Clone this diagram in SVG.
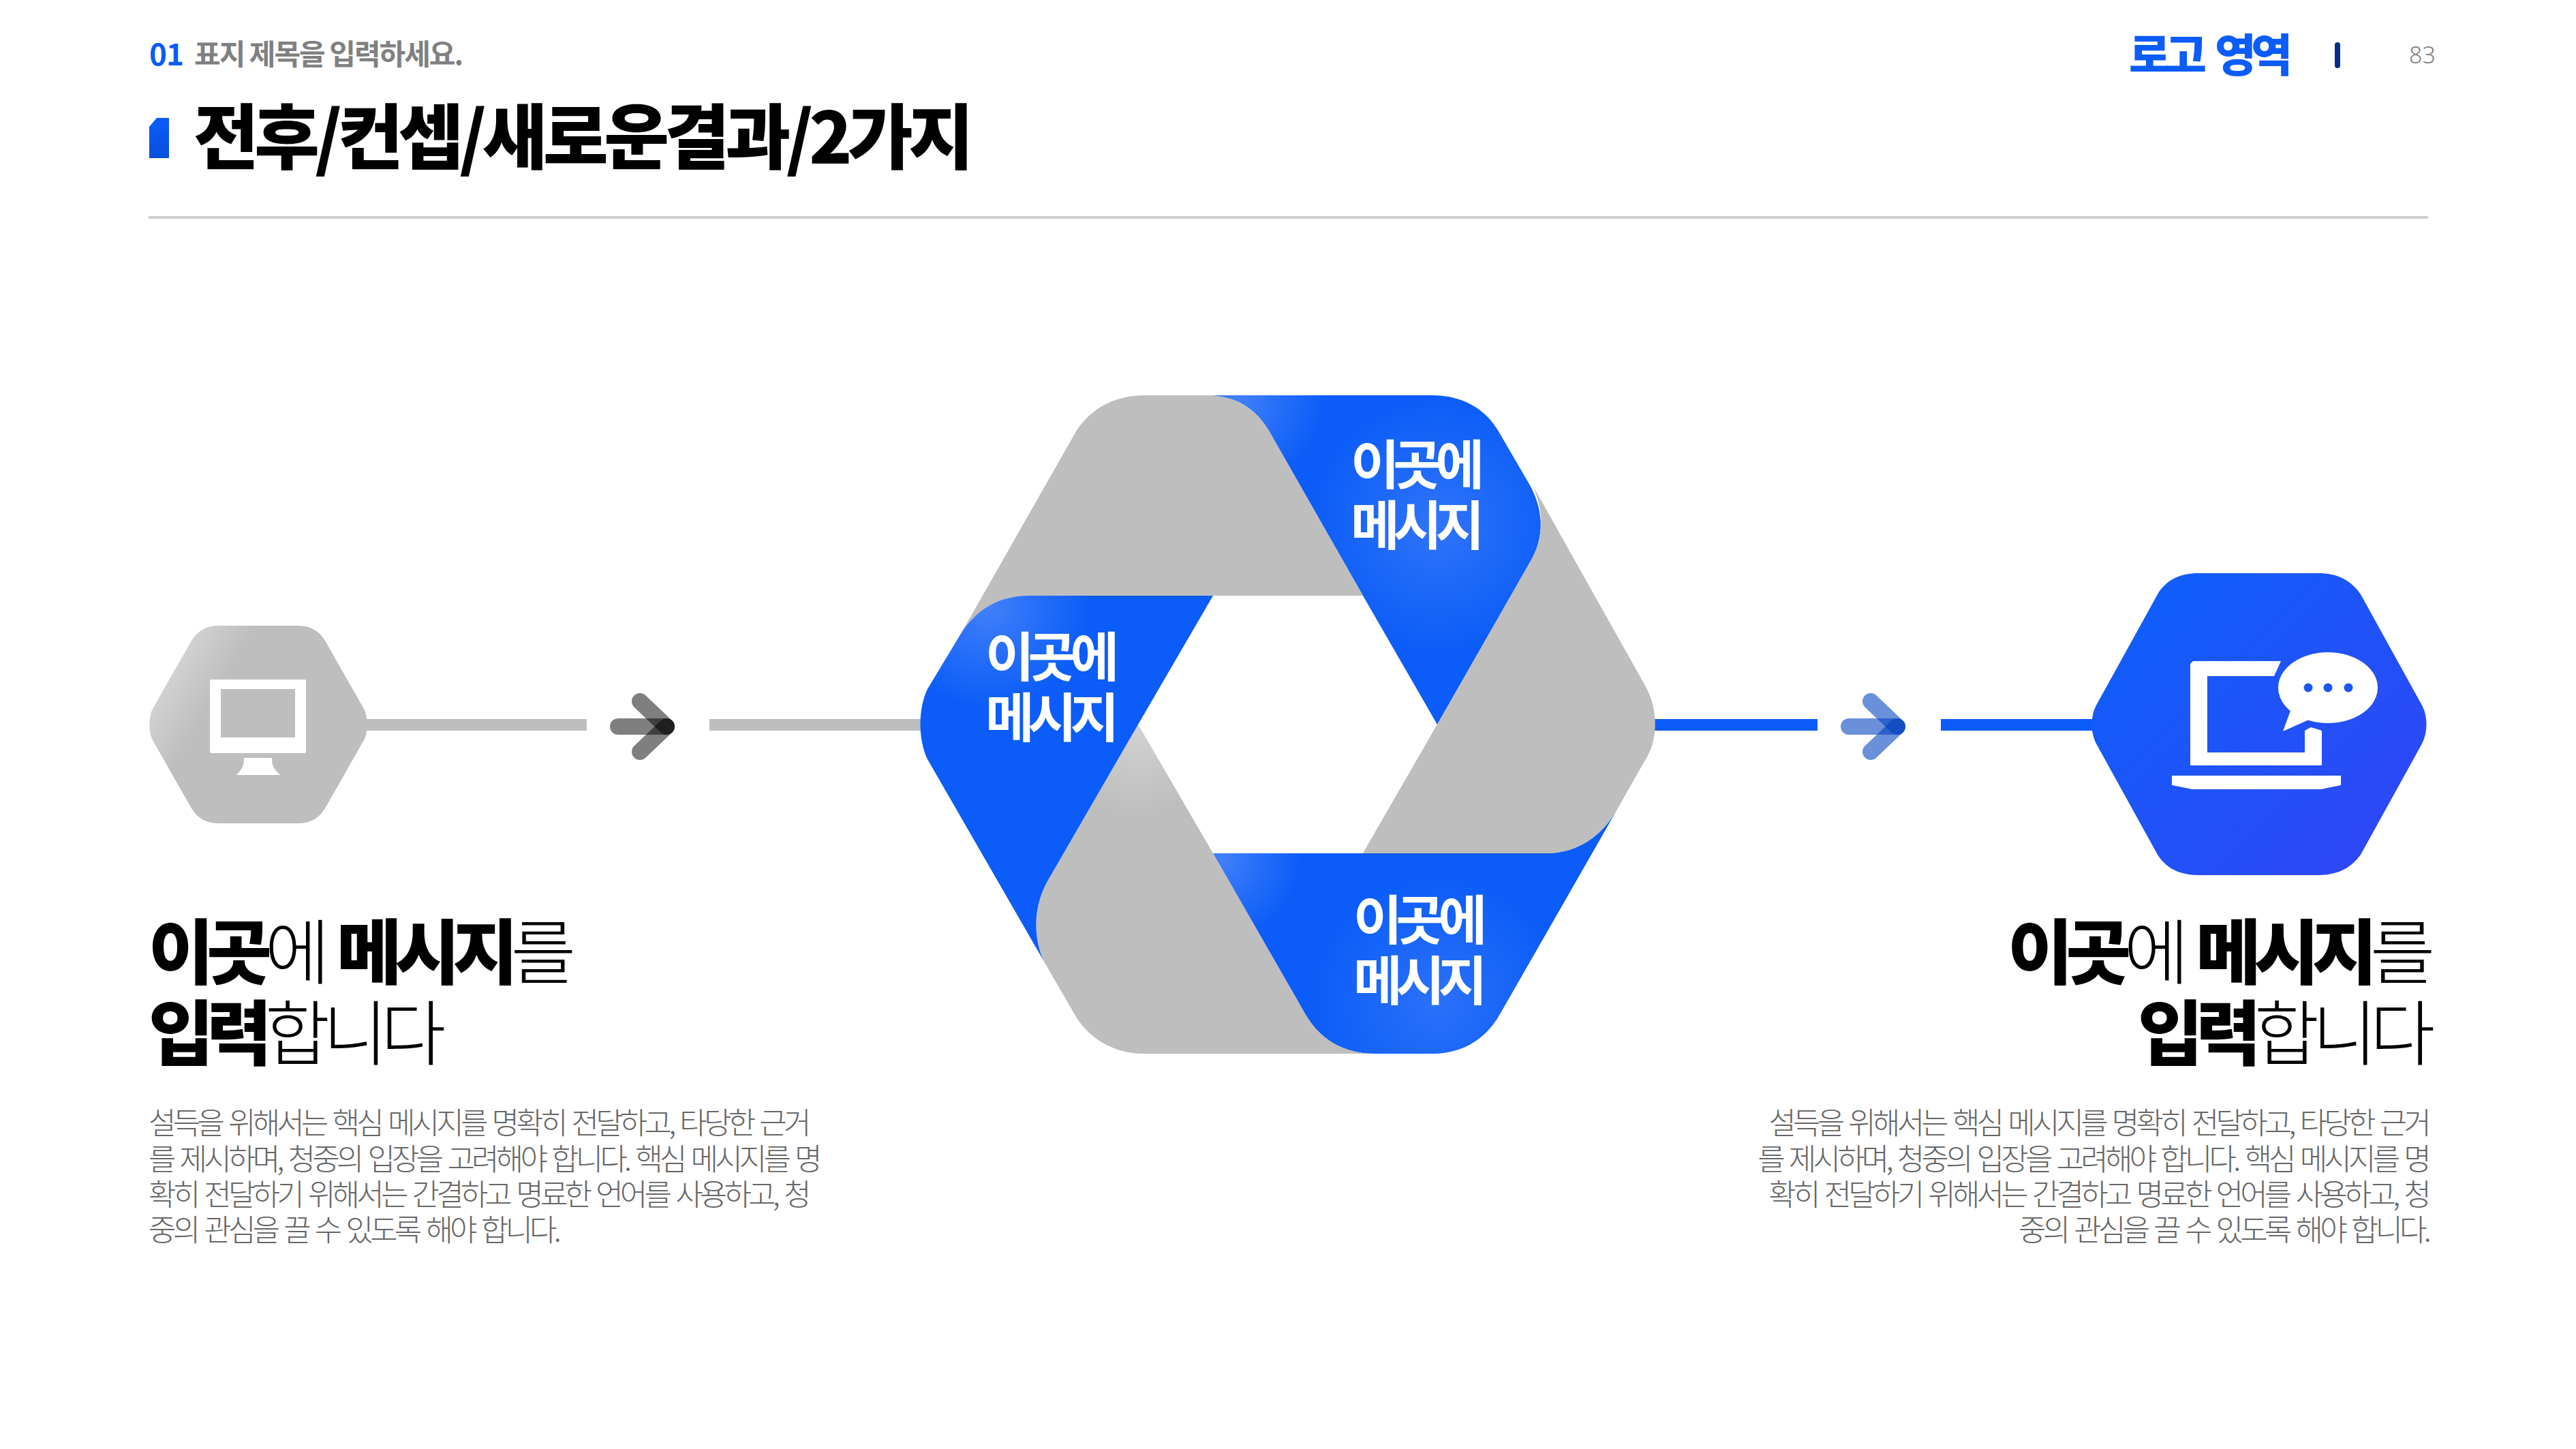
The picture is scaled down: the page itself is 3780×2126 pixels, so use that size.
<svg xmlns="http://www.w3.org/2000/svg" xmlns:xlink="http://www.w3.org/1999/xlink" width="3780" height="2126" viewBox="0 0 3780 2126">
<style>
text{font-family:"Noto Sans CJK KR","Noto Sans",sans-serif}
.t{font-weight:900;font-size:104px;letter-spacing:-6.5px;fill:#000}
.sub{font-weight:700;font-size:42px;letter-spacing:-2px;fill:#808080}
.lab{font-weight:700;font-size:78px;letter-spacing:-9.5px;fill:#fff}
.h{font-size:104px;letter-spacing:-10.5px;word-spacing:8px;fill:#000;font-weight:300}
.h .b{font-weight:900}
.p{font-size:44px;letter-spacing:-4.8px;word-spacing:5px;fill:#666;font-weight:300}
.e{text-anchor:end}
.gy{fill:#bebebe}
.bl{fill:#0b5cf8}
.wh{fill:#fff}
.a1{fill:none;stroke:#000;stroke-opacity:.5;stroke-width:24;stroke-linecap:round}
.a2{fill:none;stroke:#0040c0;stroke-opacity:.58;stroke-width:24;stroke-linecap:round}
</style>
<defs>
<radialGradient id="gl1" gradientUnits="userSpaceOnUse" cx="1815" cy="585" r="130"><stop offset="0" stop-color="#fff" stop-opacity=".22"/><stop offset="1" stop-color="#fff" stop-opacity="0"/></radialGradient>
<radialGradient id="gl2" gradientUnits="userSpaceOnUse" cx="2110" cy="770" r="190"><stop offset="0" stop-color="#fff" stop-opacity=".15"/><stop offset="1" stop-color="#fff" stop-opacity="0"/></radialGradient>
<radialGradient id="gl3" gradientUnits="userSpaceOnUse" cx="1450" cy="890" r="150"><stop offset="0" stop-color="#fff" stop-opacity=".22"/><stop offset="1" stop-color="#fff" stop-opacity="0"/></radialGradient>
<radialGradient id="gl4" gradientUnits="userSpaceOnUse" cx="1790" cy="1260" r="120"><stop offset="0" stop-color="#fff" stop-opacity=".22"/><stop offset="1" stop-color="#fff" stop-opacity="0"/></radialGradient>
<radialGradient id="gl5" gradientUnits="userSpaceOnUse" cx="2110" cy="1470" r="190"><stop offset="0" stop-color="#fff" stop-opacity=".13"/><stop offset="1" stop-color="#fff" stop-opacity="0"/></radialGradient>
<radialGradient id="gl6" gradientUnits="userSpaceOnUse" cx="1670" cy="1075" r="120"><stop offset="0" stop-color="#fff" stop-opacity=".28"/><stop offset="1" stop-color="#fff" stop-opacity="0"/></radialGradient>
<linearGradient id="gh" gradientUnits="userSpaceOnUse" x1="280" y1="920" x2="350" y2="960"><stop offset="0" stop-color="#d4d4d4"/><stop offset="1" stop-color="#bebebe"/></linearGradient>
<linearGradient id="bh" gradientUnits="userSpaceOnUse" x1="3150" y1="900" x2="3500" y2="1250"><stop offset="0" stop-color="#115dfa"/><stop offset="1" stop-color="#2f47f6"/></linearGradient>
<linearGradient id="ac" x1="0" y1="0" x2="0" y2="1"><stop offset="0" stop-color="#0b5cf8"/><stop offset="1" stop-color="#0a50dd"/></linearGradient>
<path id="b1" d="M1767 580L2102 580C2146 580 2180 600 2199 633L2245 712C2266 750 2266 790 2245 825L2109 1063L2000 874L1866 639C1845 600 1815 580 1767 580Z"/>
<path id="b2" d="M1411 928C1435 892 1468 874 1510 874L1780 874L1670 1063L1537 1293C1516 1330 1516 1375 1531 1409L1361 1114C1347 1085 1347 1040 1361 1011Z"/>
<path id="b3" d="M1780 1252L2268 1252C2310 1252 2345 1232 2370 1193L2201 1488C2180 1525 2146 1546 2102 1546L2019 1546C1970 1546 1935 1525 1912 1482Z"/>
<path id="g3" d="M1670 1063L1780 1252L1912 1482C1935 1525 1970 1546 2019 1546L1679 1546C1635 1546 1600 1525 1579 1492L1531 1409C1516 1375 1516 1330 1537 1293Z"/>
</defs>
<rect width="3780" height="2126" fill="#fff"/>
<g id="header">
<text x="219" y="96" font-size="44" font-weight="700" fill="#0b5cf8" letter-spacing="-1">01</text>
<text class="sub" x="285" y="95">표지 제목을 입력하세요.</text>
<path d="M219 186L230 173L248 173L248 232L219 232Z" fill="url(#ac)"/>
<text class="t" x="284" y="240">전후/컨셉/새로운결과/2가지</text>
<rect x="218" y="317" width="3345" height="4" fill="#cfcfcf"/>
<text x="3124" y="105" font-size="66" font-weight="900" fill="#0b5cf8" letter-spacing="-7.5" word-spacing="12">로고 영역</text>
<rect x="3426" y="62" width="8" height="38" rx="4" fill="#002e8a"/>
<text x="3535" y="93" font-size="34" font-weight="300" fill="#808080" style="font-family:'Noto Sans',sans-serif">83</text>
</g>
<g id="connectors">
<rect x="530" y="1055" width="331" height="17" class="gy"/>
<rect x="1041" y="1055" width="320" height="17" class="gy"/>
<rect x="2420" y="1055" width="247" height="17" class="bl"/>
<rect x="2848" y="1055" width="232" height="17" class="bl"/>
<g id="arrow-left">
<path class="a1" d="M907 1066L978 1066"/><path class="a1" d="M939 1029L978 1066"/><path class="a1" d="M939 1103L978 1066"/>
</g>
<g id="arrow-right">
<path class="a2" d="M2713 1066L2784 1066"/><path class="a2" d="M2745 1029L2784 1066"/><path class="a2" d="M2745 1103L2784 1066"/>
</g>
</g>
<g id="node-before">
<path d="M322 918L436 918C455 918 468 925 477 940L534 1040C540 1052 540 1075 534 1086L477 1186C468 1201 455 1208 436 1208L322 1208C303 1208 290 1201 281 1186L224 1086C218 1075 218 1052 224 1040L281 940C290 925 303 918 322 918Z" fill="url(#gh)"/>
<rect x="308" y="997" width="141" height="108" rx="2" class="wh"/>
<rect x="324" y="1011" width="109" height="71" class="gy"/>
<path d="M358 1112L399 1112C399 1125 402 1128 411 1137L347 1137C355 1128 358 1125 358 1112Z" class="wh"/>
</g>
<g id="node-center">
<g id="seg-blue-1"><use href="#b1" class="bl"/><use href="#b1" fill="url(#gl1)"/><use href="#b1" fill="url(#gl2)"/></g>
<path id="seg-gray-2" class="gy" d="M2249 712L2413 1004C2434 1040 2434 1086 2413 1117L2370 1193C2345 1232 2310 1252 2268 1252L2000 1252L2109 1063L2245 825C2266 790 2266 750 2249 712Z"/>
<g id="seg-blue-2"><use href="#b3" class="bl"/><use href="#b3" fill="url(#gl4)"/><use href="#b3" fill="url(#gl5)"/></g>
<path id="seg-gray-2b" class="gy" d="M2370 1193C2345 1232 2310 1252 2268 1252L2000 1252L2109 1063L2300 1063Z"/>
<path id="seg-gray-1" class="gy" d="M1679 580L1767 580C1815 580 1845 600 1866 639L2000 874L1510 874C1468 874 1435 892 1411 928L1579 633C1600 600 1635 580 1679 580Z"/>
<g id="seg-gray-3"><use href="#g3" class="gy"/><use href="#g3" fill="url(#gl6)"/></g>
<g id="seg-blue-3"><use href="#b2" class="bl"/><use href="#b2" fill="url(#gl3)"/></g>
<g id="label-top"><text class="lab" x="1982" y="711">이곳에</text><text class="lab" x="1982" y="800">메시지</text></g>
<g id="label-left"><text class="lab" x="1446" y="993">이곳에</text><text class="lab" x="1446" y="1082">메시지</text></g>
<g id="label-bottom"><text class="lab" x="1986" y="1379">이곳에</text><text class="lab" x="1986" y="1468">메시지</text></g>
</g>
<g id="node-after">
<path d="M3226 841L3402 841C3428 841 3449 850 3464 872L3553 1033C3563 1050 3563 1075 3553 1093L3464 1254C3449 1275 3428 1284 3402 1284L3226 1284C3200 1284 3179 1275 3166 1254L3077 1093C3067 1075 3067 1050 3077 1033L3166 872C3179 850 3200 841 3226 841Z" fill="url(#bh)"/>
<path d="M3218 970L3347 970L3337 992L3239 992L3239 1104L3382 1104L3382 1072L3391 1067L3407 1072L3407 1123L3214 1123L3214 974Z" class="wh"/>
<path d="M3187 1138L3435 1138L3435 1152L3406 1158L3217 1158L3187 1152Z" class="wh"/>
<ellipse cx="3416" cy="1009" rx="73" ry="52" class="wh"/>
<path d="M3362 1040L3350 1073L3390 1055Z" class="wh"/>
<circle cx="3387" cy="1009" r="6.5" fill="#1a56f8"/><circle cx="3416" cy="1009" r="6.5" fill="#1a56f8"/><circle cx="3446" cy="1009" r="6.5" fill="#1a56f8"/>
</g>
<g id="caption-left">
<text class="h" x="218" y="1436"><tspan class="b">이곳</tspan>에 <tspan class="b">메시지</tspan>를</text>
<text class="h" x="218" y="1555"><tspan class="b">입력</tspan>합니다</text>
<text class="p" x="218" y="1664">설득을 위해서는 핵심 메시지를 명확히 전달하고, 타당한 근거</text>
<text class="p" x="218" y="1717">를 제시하며, 청중의 입장을 고려해야 합니다. 핵심 메시지를 명</text>
<text class="p" x="218" y="1769">확히 전달하기 위해서는 간결하고 명료한 언어를 사용하고, 청</text>
<text class="p" x="218" y="1821">중의 관심을 끌 수 있도록 해야 합니다.</text>
</g>
<g id="caption-right">
<text class="h e" x="3563" y="1436"><tspan class="b">이곳</tspan>에 <tspan class="b">메시지</tspan>를</text>
<text class="h e" x="3563" y="1555"><tspan class="b">입력</tspan>합니다</text>
<text class="p e" x="3563" y="1664">설득을 위해서는 핵심 메시지를 명확히 전달하고, 타당한 근거</text>
<text class="p e" x="3563" y="1717">를 제시하며, 청중의 입장을 고려해야 합니다. 핵심 메시지를 명</text>
<text class="p e" x="3563" y="1769">확히 전달하기 위해서는 간결하고 명료한 언어를 사용하고, 청</text>
<text class="p e" x="3563" y="1821">중의 관심을 끌 수 있도록 해야 합니다.</text>
</g>
</svg>
